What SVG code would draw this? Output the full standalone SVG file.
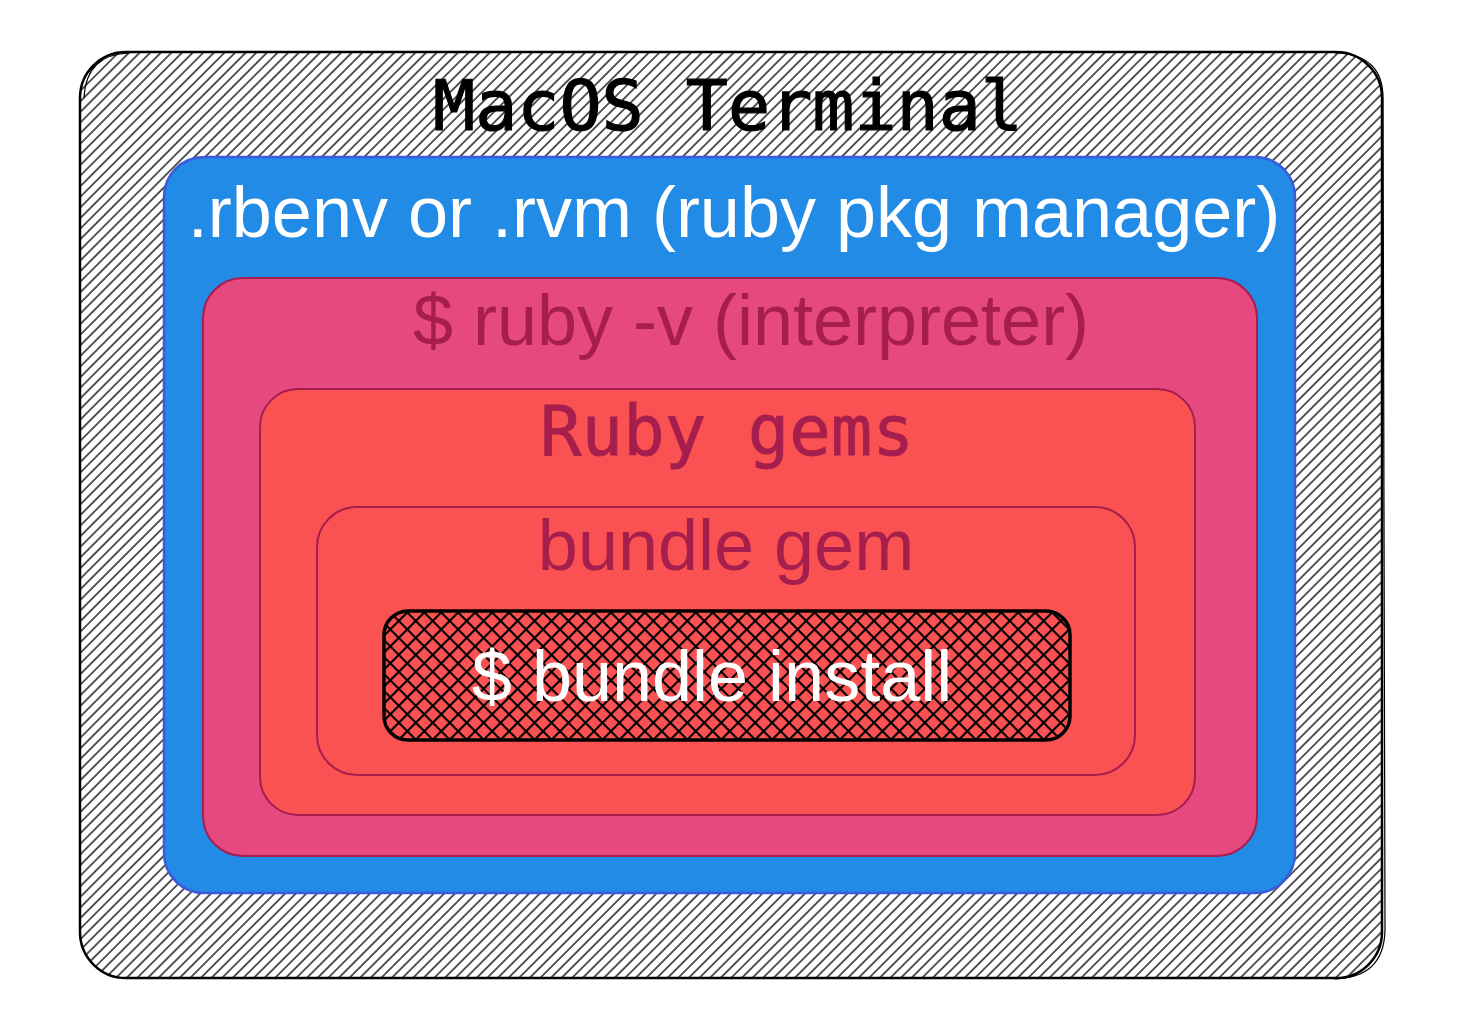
<svg xmlns="http://www.w3.org/2000/svg" width="1464" height="1032" viewBox="0 0 1464 1032">
<defs>
<pattern id="hatch" patternUnits="userSpaceOnUse" width="7.5" height="7.5" patternTransform="rotate(45)">
<line x1="1" y1="0" x2="1" y2="7.5" stroke="#000" stroke-width="1.3"/>
</pattern>
<pattern id="cross" patternUnits="userSpaceOnUse" width="12" height="12" patternTransform="rotate(45)">
<line x1="1" y1="0" x2="1" y2="12" stroke="#000" stroke-width="2.2"/>
<line x1="0" y1="1" x2="12" y2="1" stroke="#000" stroke-width="2.2"/>
</pattern>
<style>
.sans{font-family:"Liberation Sans",Arial,Helvetica,sans-serif;font-size:72px;text-anchor:middle}
.mono{font-family:"DejaVu Sans Mono","Liberation Mono",monospace;text-anchor:middle}
</style>
</defs>
<rect width="1464" height="1032" fill="#fff"/>
<g id="terminal">
<rect x="80" y="52" width="1302" height="926" rx="46" fill="url(#hatch)" stroke="#000" stroke-width="2.5"/>
<path d="M84 98 Q86 54 130 53 M1335 53 Q1384 54 1383 100 L1385 930 Q1384 978 1334 979" fill="none" stroke="#000" stroke-width="1.2"/>
<text class="mono" x="728" y="130" font-size="70" fill="#000" stroke="#000" stroke-width="1.2">MacOS Terminal</text>
</g>
<g id="rbenv">
<rect x="164" y="157" width="1131" height="736" rx="40" fill="#228be6" stroke="#3b5bdb" stroke-width="2.5"/>
<text class="sans" x="734" y="237" fill="#fff">.rbenv or .rvm (ruby pkg manager)</text>
</g>
<g id="ruby">
<rect x="203" y="278" width="1054" height="578" rx="40" fill="#e64980" stroke="#a61e4d" stroke-width="2"/>
<text class="sans" x="751" y="345" fill="#a61e4d">$ ruby -v (interpreter)</text>
</g>
<g id="gems">
<rect x="260" y="389" width="935" height="426" rx="38" fill="#fa5252" stroke="#a61e4d" stroke-width="2"/>
<text class="mono" x="727" y="455" font-size="69" fill="#a61e4d" stroke="#a61e4d" stroke-width="0.8">Ruby gems</text>
</g>
<g id="bundle-gem">
<rect x="317" y="507" width="818" height="268" rx="40" fill="#fa5252" stroke="#a61e4d" stroke-width="2"/>
<text class="sans" x="726" y="570" fill="#a61e4d">bundle gem</text>
</g>
<g id="bundle-install">
<rect x="384" y="611" width="686" height="129" rx="24" fill="#fa5252" stroke="none"/>
<rect x="384" y="611" width="686" height="129" rx="24" fill="url(#cross)" stroke="#000" stroke-width="3.5"/>
<text class="sans" x="712" y="701" fill="#fff">$ bundle install</text>
</g>
<g id="connectors"/>
</svg>
